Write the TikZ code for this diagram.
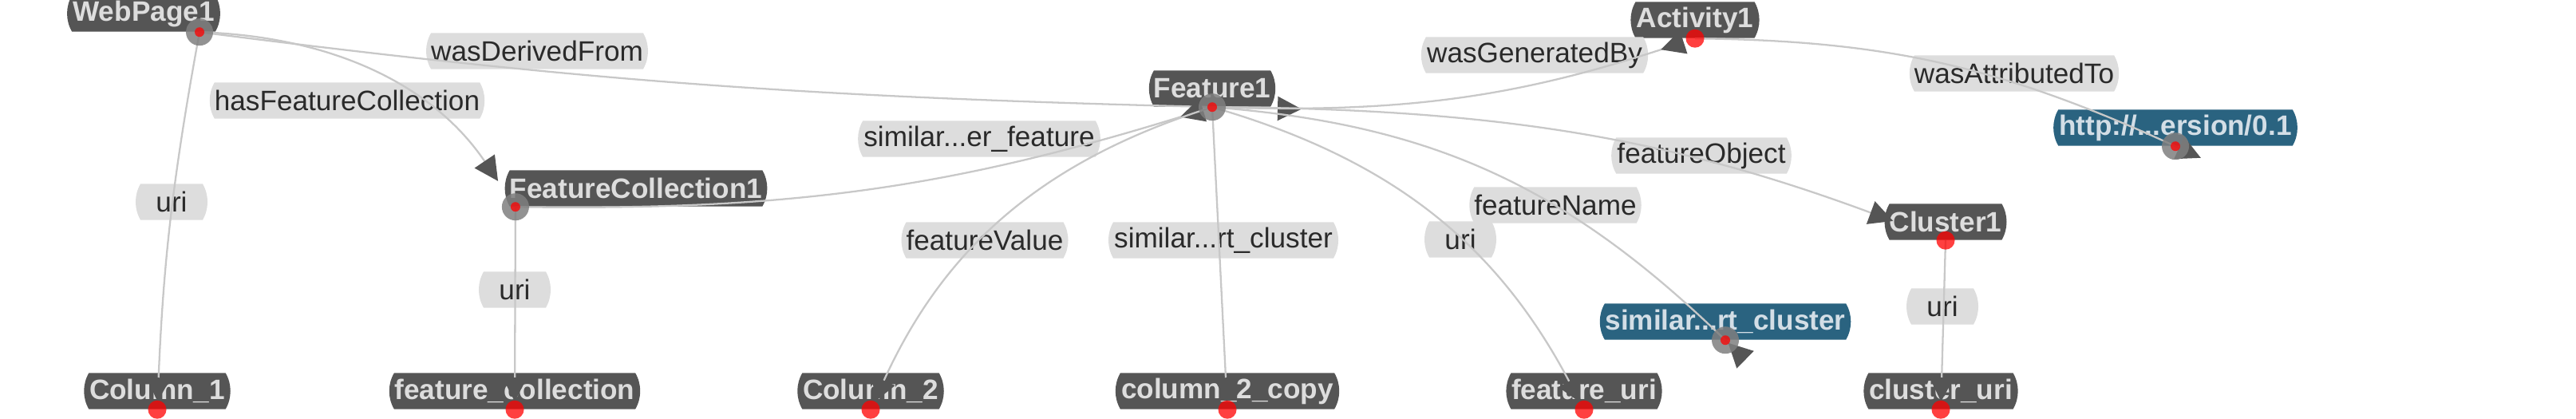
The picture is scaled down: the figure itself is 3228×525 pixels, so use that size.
\documentclass[tikz,border=0pt]{standalone}
\usepackage{fontspec}
\setmainfont{Liberation Sans}
\usetikzlibrary{arrows.meta,shapes.misc,positioning}
\definecolor{boxgrey}{HTML}{555555}
\definecolor{boxtext}{HTML}{DDDDDD}
\definecolor{uriblue}{HTML}{2A6380}
\definecolor{uritext}{HTML}{D3DEE6}
\definecolor{propfill}{HTML}{DDDDDD}
\definecolor{proptext}{HTML}{2A2A2A}
\definecolor{linkgrey}{HTML}{C8C8C8}
\definecolor{halogrey}{HTML}{7F7F7F}

\begin{document}
\begin{tikzpicture}[x=0.01cm,y=0.01cm,
    cls/.style={rounded rectangle,rounded rectangle arc length=60,fill=boxgrey,text=boxtext,font=\fontsize{10}{12}\selectfont\bfseries,minimum height=0.45cm,inner xsep=1.2pt,inner ysep=0pt},
    res/.style={cls,fill=uriblue,text=uritext},
    prop/.style={cls,fill=propfill,text=proptext,font=\fontsize{10}{12}\selectfont},
    link/.style={draw=linkgrey,line width=0.65pt},
    fwd/.style={-{Triangle[length=0.3cm,width=0.3cm,color=boxgrey]}},
    bwd/.style={-{Triangle[length=0.3cm,width=0.3cm,color=boxgrey,reversed]}},
    ele/.style={circle,fill=red,fill opacity=0.75,inner sep=0pt,minimum size=0.23cm},
    sele/.style={ele,minimum size=0.12cm},
    halo/.style={circle,fill=halogrey,fill opacity=0.85,inner sep=0pt,minimum size=0.34cm}]
  \useasboundingbox (0,0) rectangle (3228,-525);

  \node[cls] (webpage) at (180,-17) {WebPage1};
  \node[cls] (fcoll) at (797,-236) {FeatureCollection1};
  \node[cls] (feature) at (1519,-111) {Feature1};
  \node[cls] (activity) at (2124,-25) {Activity1};
  \node[cls] (cluster) at (2438,-278) {Cluster1};
  \node[res] (simcnode) at (2162,-403) {similar...rt\_cluster};
  \node[res] (httpnode) at (2726,-160) {http://...ersion/0.1};
  \node[cls] (col1) at (197,-490) {Column\_1};
  \node[cls] (fcolnode) at (645,-490) {feature\_collection};
  \node[cls] (col2) at (1091,-490) {Column\_2};
  \node[cls] (col2c) at (1538,-490) {column\_2\_copy};
  \node[cls] (furinode) at (1985,-490) {feature\_uri};
  \node[cls] (curinode) at (2432,-490) {cluster\_uri};

  \node[prop] (l-derived) at (673,-64) {wasDerivedFrom};
  \node[prop] (l-hasfc) at (435,-126) {hasFeatureCollection};
  \node[prop] (l-uri1) at (215,-253) {uri};
  \node[prop] (l-uri2) at (645,-363) {uri};
  \node[prop] (l-simfeat) at (1227,-174) {similar...er\_feature};
  \node[prop] (l-value) at (1234,-301) {featureValue};
  \node[prop] (l-simclus) at (1533,-301) {similar...rt\_cluster};
  \node[prop] (l-uri3) at (1830,-300) {uri};
  \node[prop] (l-name) at (1949,-257) {featureName};
  \node[prop] (l-object) at (2132,-195) {featureObject};
  \node[prop] (l-gen) at (1923,-69) {wasGeneratedBy};
  \node[prop] (l-attr) at (2524,-92) {wasAttributedTo};
  \node[prop] (l-uri4) at (2434,-384) {uri};

  \coordinate (wp) at ([xshift=0.70cm]webpage.south);
  \coordinate (fc) at ([xshift=-1.51cm]fcoll.south);
  \coordinate (f1) at (feature.south);
  \coordinate (act) at (activity.south);
  \coordinate (cl) at (cluster.south);
  \coordinate (simc) at (simcnode.south);
  \coordinate (http) at (httpnode.south);
  \coordinate (c1) at (col1.south);
  \coordinate (fcol) at (fcolnode.south);
  \coordinate (c2) at (col2.south);
  \coordinate (c2c) at (col2c.south);
  \coordinate (furi) at (furinode.south);
  \coordinate (curi) at (curinode.south);

  \draw[link,fwd,shorten >=0.1cm] (wp) to[bend right=4] (c1);
  \draw[link,fwd,shorten >=0.39cm] (wp) to[bend left=27] (fc);
  \draw[link,fwd,shorten >=-1.12cm] (wp) to[bend right=3] (f1);
  \draw[link,bwd,shorten >=0.12cm] (fc) to[bend right=9] (f1);
  \draw[link,fwd,shorten >=0.1cm] (fc) -- (fcol);
  \draw[link,bwd,shorten >=0.15cm] (f1) to[bend right=10] (act);
  \draw[link,fwd,shorten >=-0.35cm] (act) to[bend left=12] (http);
  \draw[link,fwd,shorten >=0.7cm] (f1) to[bend left=10] (cl);
  \draw[link,bwd,shorten >=-0.35cm] (f1) to[bend left=20] (simc);
  \draw[link,fwd,shorten >=0.1cm] (f1) to[bend left=23] (furi);
  \draw[link,fwd,shorten >=0.1cm] (f1) -- (c2c);
  \draw[link,fwd,shorten >=0.1cm] (f1) to[bend right=24] (c2);
  \draw[link,fwd,shorten >=0.1cm] (cl) -- (curi);

  \node[halo] (wp-h) at (wp) {};
  \node[halo] (fc-h) at (fc) {};
  \node[halo] (f1-h) at (f1) {};
  \node[halo] (simc-h) at (simc) {};
  \node[halo] (http-h) at (http) {};
  \node[sele] (wp-d) at (wp) {};
  \node[sele] (fc-d) at (fc) {};
  \node[sele] (f1-d) at (f1) {};
  \node[sele] (simc-d) at (simc) {};
  \node[sele] (http-d) at (http) {};
  \node[ele] (act-d) at (act) {};
  \node[ele] (cl-d) at (cl) {};
  \node[ele] (c1-d) at (c1) {};
  \node[ele] (fcol-d) at (fcol) {};
  \node[ele] (c2-d) at (c2) {};
  \node[ele] (c2c-d) at (c2c) {};
  \node[ele] (furi-d) at (furi) {};
  \node[ele] (curi-d) at (curi) {};
\end{tikzpicture}
\end{document}
